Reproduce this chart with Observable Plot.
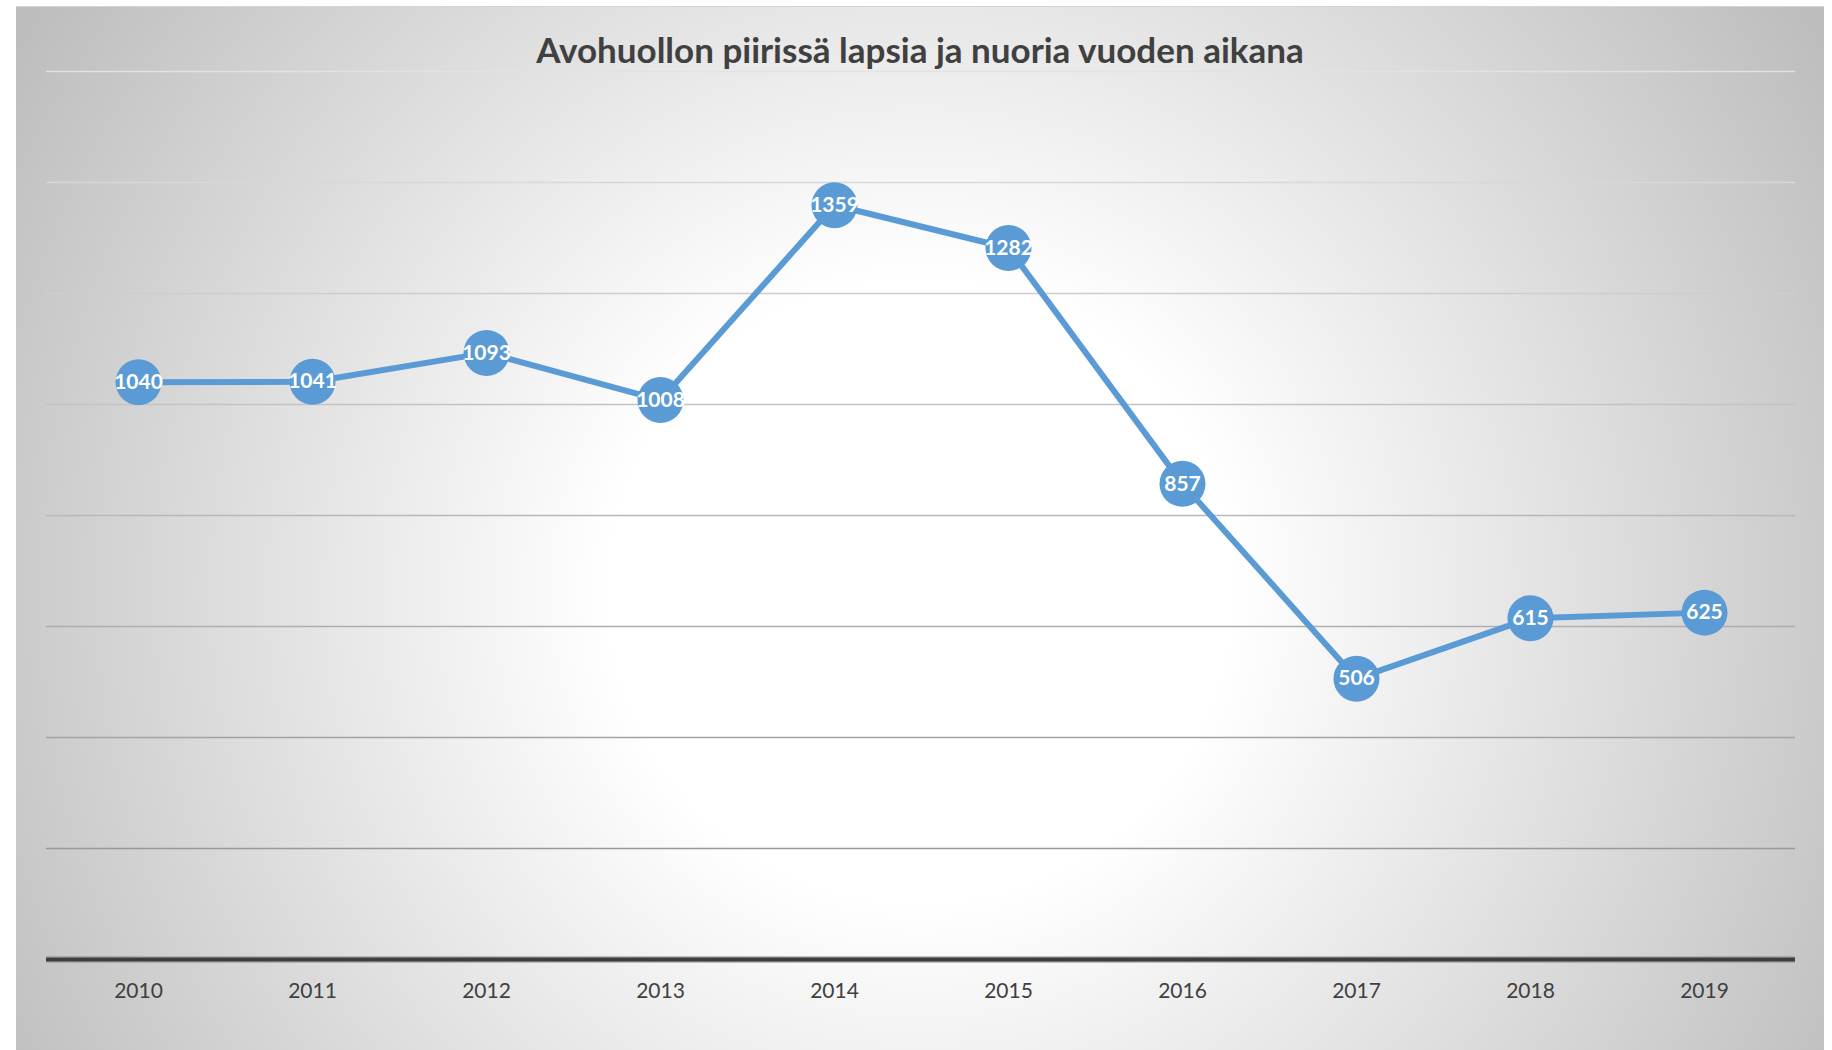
<!DOCTYPE html>
<html>
<head>
<meta charset="utf-8">
<script src="https://cdn.jsdelivr.net/npm/d3@7"></script>
<script src="https://cdn.jsdelivr.net/npm/@observablehq/plot@0.6"></script>
<style>
  html, body { margin: 0; padding: 0; background: #ffffff; width: 1832px; height: 1050px; overflow: hidden; }
  #frame {
    position: absolute; left: 16px; top: 6px; width: 1808px; height: 1044px;
    background: radial-gradient(circle at 50% 56%, #ffffff 0px, #ffffff 310px, #bdbdbd 1060px);
    border-top: 1px solid #d4d4d4;
    box-sizing: border-box;
  }
  #title {
    position: absolute; left: 0; top: 20px; width: 1808px; text-align: center;
    font-family: Lato, "Open Sans", sans-serif; font-weight: 700; font-size: 35px;
    color: #404040; line-height: 44px;
  }
  #chart { position: absolute; left: 0; top: 60px; }
</style>
</head>
<body>
<div id="frame">
  <div id="title">Avohuollon piirissä lapsia ja nuoria vuoden aikana</div>
  <div id="chart"></div>
</div>
<script>
const years = ["2010","2011","2012","2013","2014","2015","2016","2017","2018","2019"];
const values = [1040, 1041, 1093, 1008, 1359, 1282, 857, 506, 615, 625];
const gridTicks = [200, 400, 600, 800, 1000, 1200, 1400, 1600];

const data = years.map((y, i) => ({year: y, value: values[i]}));
const gridColor = d3.interpolateRgb("#e2e2e2", "#8e8e8e");

const chart = Plot.plot({
  width: 1808,
  height: 984,
  marginLeft: 30,
  marginRight: 29,
  marginTop: 4,
  marginBottom: 92,
  style: { background: "transparent", fontFamily: "Lato, 'Open Sans', sans-serif", overflow: "visible" },
  x: { type: "point", domain: years, padding: 0.5, label: null },
  y: { domain: [0, 1600], axis: null },
  marks: [
    Plot.ruleY(gridTicks, { stroke: d => gridColor(1 - d / 1600), strokeWidth: 1.5 }),
    Plot.ruleY([0], { stroke: "#8a8a8a", strokeWidth: 6 }),
    Plot.ruleY([0], { stroke: "#3d3d3d", strokeWidth: 3.5 }),
    Plot.axisX({ tickSize: 0, tickPadding: 24, fontSize: 21, color: "#404040", label: null }),
    Plot.line(data, { x: "year", y: "value", stroke: "#5b9bd5", strokeWidth: 6, strokeLinejoin: "round" }),
    Plot.dot(data, { x: "year", y: "value", r: 23, fill: "#5b9bd5", stroke: "none" }),
    Plot.text(data, { x: "year", y: "value", text: d => String(d.value), fill: "#ffffff", fontSize: 21, fontWeight: 700 })
  ]
});
document.getElementById("chart").appendChild(chart);
</script>
</body>
</html>
